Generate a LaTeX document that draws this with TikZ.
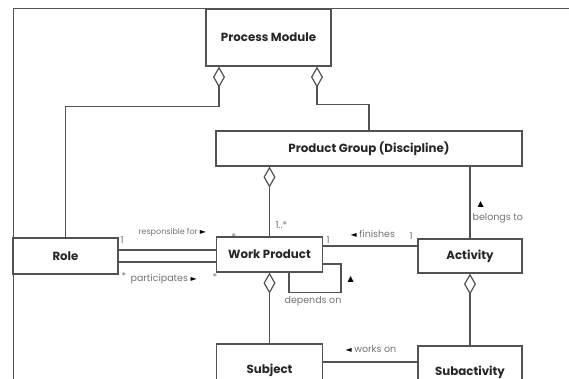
\documentclass[tikz,border=0pt]{standalone}
\usepackage{fontspec}
\setmainfont{Poppins}
\newfontfamily\symfont{DejaVu Sans}
\usetikzlibrary{arrows.meta}

\newcommand{\tri}[1]{{\color{black}\symfont\fontsize{8}{8}\selectfont #1}}

\begin{document}
\begin{tikzpicture}[x=1pt,y=-1pt,line width=1.2pt,color=black!68,
  box/.style={draw,rectangle,inner sep=0pt,text=black!85,font=\bfseries\fontsize{11.8}{12}\selectfont},
  lbl/.style={inner sep=0pt,text=black!55,font=\fontsize{9.5}{10}\selectfont},
  agg/.style={{Diamond[open,length=21pt,width=12pt]}-}]
      \useasboundingbox (0,0) rectangle (569,379);
      \draw[line width=0.8pt] (13,379) |- (569,8);

      \node[box,minimum width=125pt,minimum height=57pt] (pm) at (268.5,37.5) {Process Module};
      \node[box,minimum width=306pt,minimum height=35pt] (pg) at (369,148.5) {Product Group (Discipline)};
      \node[box,minimum width=105pt,minimum height=36pt] (role) at (65.5,256) {Role};
      \node[box,minimum width=106pt,minimum height=35pt] (wp) at (269.5,254.5) {Work Product};
      \node[box,minimum width=104pt,minimum height=34pt] (act) at (470,256) {Activity};
      \node[box,minimum width=106pt,minimum height=52pt] (subj) at (269.5,370) {Subject};
      \node[box,minimum width=104pt,minimum height=52pt] (subact) at (470,372) {Subactivity};

      \draw[agg] ([xshift=-49.5pt]pm.south) -- ++(0,40) -| (role.north);
      \draw[agg] ([xshift=48.5pt]pm.south) -- ++(0,38) -| (pg.north);
      \draw[agg] (pg.south -| wp.north) -- (wp.north);
      \draw (pg.south -| act.north) -- (act.north);

      \draw ([yshift=6pt]role.east) -- ([yshift=6pt]role.east -| wp.west);
      \draw ([yshift=-6pt]role.east) -- ([yshift=-6pt]role.east -| wp.west);
      \draw ([yshift=8.5pt]wp.east) -- ([yshift=8.5pt]wp.east -| act.west);
      \draw ([xshift=19.5pt]wp.south) -- ++(0,20) -- ++(52,0) |- ([yshift=-9.5pt]wp.east);

      \draw[agg] (wp.south) -- (subj.north);
      \draw[agg] (act.south) -- (subact.north);
      \draw ([yshift=8pt]subj.east) -- ([yshift=8pt]subj.east -| subact.west);

      \node[lbl,anchor=west] (m1) at (275,225) {1..*};
      \node[lbl,anchor=west] (bt) at (477,204) {\tri{▲}};
      \node[lbl,anchor=west] (belong) at (472,218) {belongs to};
      \node[lbl,anchor=west] (r1) at (120,240) {1};
      \node[lbl,anchor=west,font=\fontsize{8}{8}\selectfont] (resp) at (138,232) {responsible for \tri{►}};
      \node[lbl,anchor=west] (rs) at (231,237) {*};
      \node[lbl,anchor=west] (p1) at (121,276) {*};
      \node[lbl,anchor=west] (part) at (130,279) {participates \tri{►}};
      \node[lbl,anchor=west] (p2) at (212,277) {*};
      \node[lbl,anchor=west] (f1) at (326,240) {1};
      \node[lbl,anchor=west] (fin) at (350,234) {\tri{◄} finishes};
      \node[lbl,anchor=west] (f2) at (409,236) {1};
      \node[lbl,anchor=west] (dt) at (347,279) {\tri{▲}};
      \node[lbl,anchor=west] (dep) at (284,301) {depends on};
      \node[lbl,anchor=west] (wo) at (345,349) {\tri{◄} works on};
    \end{tikzpicture}
\end{document}
